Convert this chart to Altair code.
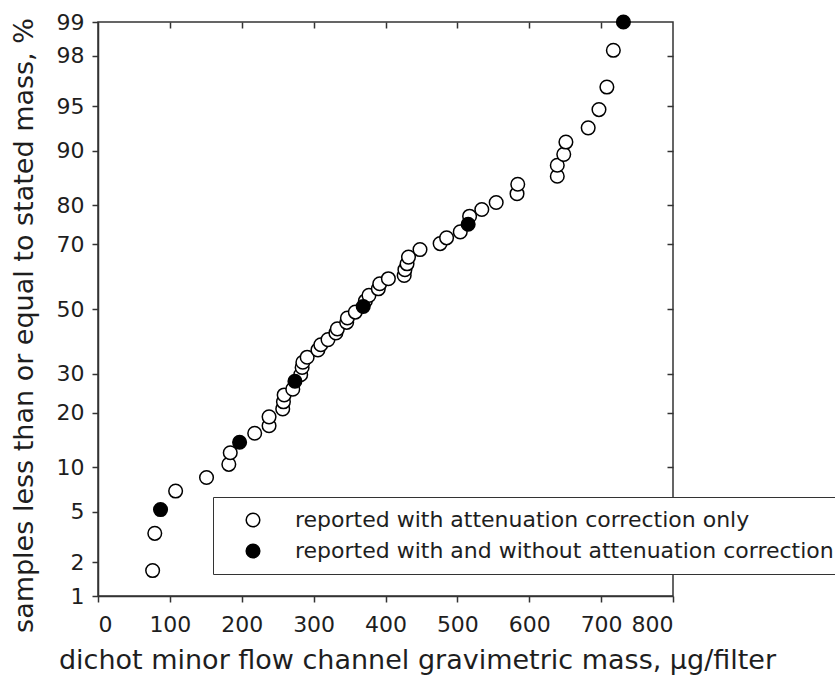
import altair as alt
import pandas as pd
from statistics import NormalDist

# ---- data ----
LAB_OPEN = "reported with attenuation correction only"
LAB_FILL = "reported with and without attenuation correction"

mass_open = [76, 79, 108, 151, 182, 184, 218, 238, 238, 257, 258, 259, 271, 282, 284, 285, 291, 306,
             310, 320, 331, 333, 346, 347, 358, 372, 377, 390, 392, 404, 426, 427, 430, 432, 448, 476,
             485, 504, 517, 534, 554, 583, 584, 639, 639, 648, 651, 682, 697, 708, 717]
pct_open = [1.7, 3.45, 7.0, 8.6, 10.4, 12.2, 15.7, 17.2, 19.1, 20.9, 22.6, 24.3, 25.8, 29.7, 31.8, 33.3, 34.8, 37.0,
            38.6, 40.2, 42.3, 43.6, 45.7, 47.1, 49.0, 52.6, 54.4, 56.5, 58.1, 59.7, 60.7, 62.5, 64.3, 66.3, 68.5, 70.2,
            71.8, 73.4, 77.4, 79.0, 80.6, 82.5, 84.4, 85.9, 87.8, 89.5, 91.2, 92.9, 94.7, 96.4, 98.2]
mass_fill = [87, 197, 274, 369, 515, 731]
pct_fill = [5.2, 14.0, 27.9, 50.8, 75.4, 99.0]

x_ticks = [0, 100, 200, 300, 400, 500, 600, 700, 800]
y_tick_pcts = [1, 2, 5, 10, 20, 30, 50, 70, 80, 90, 95, 98, 99]

df = pd.DataFrame({
    "mass": mass_open + mass_fill,
    "pct": pct_open + pct_fill,
    "group": [LAB_OPEN] * len(mass_open) + [LAB_FILL] * len(mass_fill),
})

nd = NormalDist()
y_tick_z = [nd.inv_cdf(p / 100) for p in y_tick_pcts]
y_dom = [nd.inv_cdf(0.01), nd.inv_cdf(0.99)]

FONT = "DejaVu Sans"
LINE = "#333333"
TXT = "#1e1e1e"

xscale = alt.Scale(domain=[0, 800], nice=False, zero=False)
yscale = alt.Scale(domain=y_dom, nice=False, zero=False)
label_expr = "round(cumulativeNormal(datum.value) * 100)"

base = alt.Chart(df).transform_calculate(z="quantileNormal(datum.pct / 100)")

points = base.mark_circle(size=185, stroke="black", strokeWidth=1.5, opacity=1).encode(
    x=alt.X("mass:Q", scale=xscale, axis=alt.Axis(
        values=x_ticks, tickSize=6, tickWidth=1.5, tickColor=LINE, domainColor=LINE, domainWidth=1.5,
        labelFont=FONT, labelFontSize=22, labelColor=TXT, labelPadding=12, grid=False,
        title="dichot minor flow channel gravimetric mass, μg/filter",
        titleFont=FONT, titleFontSize=27, titleFontWeight="normal", titleColor=TXT,
        titleX=319, titleY=64, titleBaseline="middle", titleAlign="center")),
    y=alt.Y("z:Q", scale=yscale, axis=alt.Axis(
        values=y_tick_z, labelExpr=label_expr, tickSize=6, tickWidth=1.5, tickColor=LINE,
        domainColor=LINE, domainWidth=1.5, labelFont=FONT, labelFontSize=22, labelColor=TXT,
        labelPadding=8, grid=False,
        title="samples less than or equal to stated mass, %",
        titleFont=FONT, titleFontSize=27, titleFontWeight="normal", titleColor=TXT,
        titleX=-74, titleY=303, titleBaseline="middle", titleAlign="center")),
    fill=alt.Fill("group:N", scale=alt.Scale(domain=[LAB_OPEN, LAB_FILL], range=["white", "black"]),
                  legend=alt.Legend(
                      orient="none", legendX=115, legendY=475, title=None,
                      padding=12, strokeColor=LINE, fillColor="white",
                      symbolType="circle", symbolSize=185, symbolStrokeColor="black",
                      symbolStrokeWidth=1.5, symbolOpacity=1, symbolOffset=17,
                      labelOffset=31, labelFont=FONT, labelFontSize=22, labelColor=TXT,
                      labelLimit=2000, rowPadding=9)),
    order=alt.Order("group:N", sort="descending"),
)

frame_axes = base.mark_circle(opacity=0).encode(
    x=alt.X("mass:Q", scale=xscale, axis=alt.Axis(
        orient="top", values=x_ticks[1:-1], tickSize=6, tickWidth=1.5, tickColor=LINE,
        offset=-6, domain=False, labels=False, grid=False), title=None),
    y=alt.Y("z:Q", scale=yscale, axis=alt.Axis(
        orient="right", values=y_tick_z[1:-1], tickSize=6, tickWidth=1.5, tickColor=LINE,
        offset=-6, domain=False, labels=False, grid=False), title=None),
)

chart = alt.layer(frame_axes, points).resolve_axis(x="independent", y="independent").properties(
    width=575, height=574,
    autosize=alt.AutoSizeParams(type="none"),
    padding={"left": 98, "top": 22, "right": 162, "bottom": 94},
    background="white",
).configure_view(stroke=LINE, strokeWidth=1.5)

chart.save("out.html", embed_options={"renderer": "svg", "actions": False})
